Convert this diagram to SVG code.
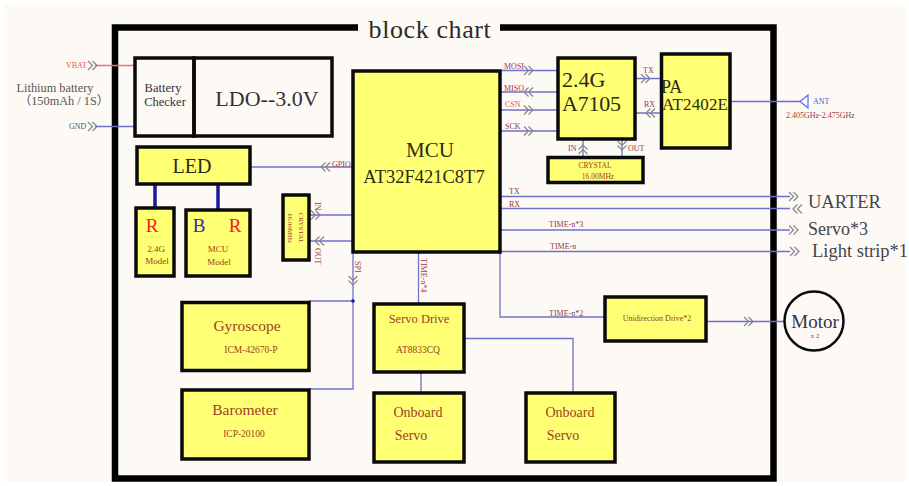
<svg xmlns="http://www.w3.org/2000/svg" width="909" height="486" viewBox="0 0 909 486">
<style>
text{font-family:"Liberation Serif","Noto Sans CJK SC",serif}
.box{fill:#ffff73;stroke:#0a0a0a;stroke-width:3.500}
.wbox{fill:none;stroke:#0a0a0a;stroke-width:3.500}
.w{fill:none;stroke:#7070cc;stroke-width:1.300}
.chev{fill:none;stroke:#85858e;stroke-width:1.200}
.lb{font-size:8px;fill:#983844}
.t{fill:#333038}
.y{fill:#2c2a10}
.br{fill:#9c3e26}
.m{fill:#94441a}
</style>
<defs>
<g id="ch" class="chev"><path d="M-5 -4.500 L-0.500 0 L-5 4.500 M-0.500 -4.500 L4 0 L-0.500 4.500"/></g>
</defs>
<rect x="0" y="0" width="909" height="486" fill="#ffffff"/>
<rect x="4" y="4" width="901" height="478" fill="#fdfaf6"/>
<g id="frame"><path d="M358 27.500 H115 V478.500 H773.500 V27.500 H500" fill="none" stroke="#000" stroke-width="6.500"/></g>
<text x="430" y="38" font-size="26" text-anchor="middle" fill="#2a2a2a" letter-spacing="0.600">block chart</text>

<g id="connectors">
<path d="M95 65.500 H134" fill="none" stroke="#f07070" stroke-width="1.300"/>
<path class="w" d="M95 126.500 H134"/>
<path class="w" d="M251 167 H352"/>
<path class="w" d="M501 70.500 H557 M501 92 H557 M501 110 H557 M501 131 H557"/>
<path class="w" d="M636 78.500 H661 M636 113 H661"/>
<path class="w" d="M731 101.500 H800"/>
<path class="w" d="M583 140 V157 M622 140 V157"/>
<path class="w" d="M310 215 H352 M310 241 H352"/>
<path class="w" d="M501 196.500 H790 M501 208.500 H790 M501 230 H790 M501 251.500 H790"/>
<path class="w" d="M500 252 V317 H604"/>
<path class="w" d="M707 321.500 H784"/>
<path class="w" d="M353 252 V389 H309 M309 301 H353"/>
<path class="w" d="M418.500 252 V303"/>
<path class="w" d="M421 373 V392"/>
<path class="w" d="M465 338.500 H573 V392"/>
<path d="M155 185 V207 M218 185 V209" fill="none" stroke="#1a1aa0" stroke-width="3.500"/>
<circle cx="353" cy="301" r="1.800" fill="#1a1aa0"/>
<path d="M800 101.500 L808 95 V108 Z" fill="none" stroke="#5a6af0" stroke-width="1.200"/>
<use href="#ch" x="93" y="65.500"/>
<use href="#ch" x="93" y="126.500"/>
<use href="#ch" transform="translate(325 167) rotate(180)"/>
<use href="#ch" x="529" y="70.500"/>
<use href="#ch" transform="translate(528 92) rotate(180)"/>
<use href="#ch" x="529" y="110"/>
<use href="#ch" x="529" y="131"/>
<use href="#ch" x="646" y="78.500"/>
<use href="#ch" transform="translate(650 113) rotate(180)"/>
<use href="#ch" transform="translate(583 149) rotate(-90)"/>
<use href="#ch" transform="translate(622 146) rotate(90)"/>
<use href="#ch" x="316" y="215"/>
<use href="#ch" transform="translate(319 241) rotate(180)"/>
<use href="#ch" transform="translate(353 281) rotate(90)"/>
<use href="#ch" x="794" y="196.500"/>
<use href="#ch" transform="translate(797 209) rotate(180)"/>
<use href="#ch" x="794" y="230"/>
<use href="#ch" x="795" y="251.500"/>
<use href="#ch" x="749" y="321.500"/>
</g>

<g id="battery-labels">
<text x="55" y="92" font-size="12.300" text-anchor="middle" fill="#55555c">Lithium battery</text>
<text x="64" y="105" font-size="12.300" text-anchor="middle" fill="#55555c">（150mAh / 1S）</text>
<text x="66" y="68" font-size="8" fill="#f05050">VBAT</text>
<text x="69" y="129" font-size="8" fill="#555560">GND</text>
</g>

<g id="battery-checker">
<rect class="wbox" x="135" y="58" width="59" height="78"/>
<text x="163" y="92" font-size="12.500" text-anchor="middle" class="t">Battery</text>
<text x="165" y="106" font-size="12.500" text-anchor="middle" class="t">Checker</text>
</g>
<g id="ldo">
<rect class="wbox" x="194" y="58" width="138" height="78"/>
<text x="267" y="106" font-size="22" text-anchor="middle" class="t">LDO--3.0V</text>
</g>
<g id="led">
<rect class="box" x="137" y="147" width="113" height="37"/>
<text x="192" y="173" font-size="20" text-anchor="middle" class="y">LED</text>
</g>
<g id="led-r">
<rect class="box" x="136" y="208" width="38" height="68"/>
<text x="152" y="232" font-size="19" text-anchor="middle" fill="#f02020">R</text>
<text x="156" y="252" font-size="9" text-anchor="middle" class="m">2.4G</text>
<text x="157" y="264" font-size="9" text-anchor="middle" class="m">Model</text>
</g>
<g id="led-br">
<rect class="box" x="186" y="210" width="64" height="66"/>
<text x="199" y="232" font-size="19" text-anchor="middle" fill="#3030b0">B</text>
<text x="235" y="232" font-size="19" text-anchor="middle" fill="#f02020">R</text>
<text x="218" y="252" font-size="9" text-anchor="middle" class="m">MCU</text>
<text x="219" y="265" font-size="9" text-anchor="middle" class="m">Model</text>
</g>
<g id="crystal-mcu">
<rect class="box" x="283" y="195" width="26" height="65"/>
<text transform="translate(299 228) rotate(90)" font-size="7" text-anchor="middle" class="br">CRYSTAL</text>
<text transform="translate(288 228) rotate(90)" font-size="7" text-anchor="middle" class="br">16.00MHz</text>
</g>
<g id="mcu">
<rect class="box" x="353" y="71" width="147" height="181"/>
<text x="430" y="157" font-size="21" text-anchor="middle" class="y">MCU</text>
<text x="424" y="183" font-size="18.500" text-anchor="middle" class="y">AT32F421C8T7</text>
</g>
<g id="a7105">
<rect class="box" x="558" y="58" width="77" height="81"/>
<text x="562" y="87" font-size="22" class="y">2.4G</text>
<text x="562" y="111" font-size="22" class="y" textLength="59">A7105</text>
</g>
<g id="pa">
<rect class="box" x="661.500" y="54" width="68.500" height="94"/>
<text x="661" y="93" font-size="18" class="y">PA</text>
<text x="662" y="110" font-size="17" class="y" textLength="66">AT2402E</text>
</g>
<g id="crystal-rf">
<rect class="box" x="548" y="157.500" width="95" height="25"/>
<text x="595" y="168" font-size="7.500" text-anchor="middle" class="br">CRYSTAL</text>
<text x="598" y="179" font-size="7.500" text-anchor="middle" class="br">16.00MHz</text>
</g>
<g id="gyroscope">
<rect class="box" x="182" y="302.500" width="127" height="68"/>
<text x="247" y="331" font-size="15.500" text-anchor="middle" class="br">Gyroscope</text>
<text x="251" y="353" font-size="9.500" text-anchor="middle" class="br">ICM-42670-P</text>
</g>
<g id="barometer">
<rect class="box" x="182" y="390" width="127" height="69"/>
<text x="245" y="415" font-size="15.500" text-anchor="middle" class="br">Barometer</text>
<text x="244" y="437" font-size="9.500" text-anchor="middle" class="br">ICP-20100</text>
</g>
<g id="servo-drive">
<rect class="box" x="374" y="304" width="90" height="68"/>
<text x="419" y="323" font-size="12.500" text-anchor="middle" class="br">Servo Drive</text>
<text x="418" y="353" font-size="9.500" text-anchor="middle" class="br">AT8833CQ</text>
</g>
<g id="onboard-servo-1">
<rect class="box" x="374" y="393" width="90" height="69"/>
<text x="418" y="417" font-size="14" text-anchor="middle" class="br">Onboard</text>
<text x="411" y="440" font-size="14" text-anchor="middle" class="br">Servo</text>
</g>
<g id="onboard-servo-2">
<rect class="box" x="526" y="393" width="89" height="69"/>
<text x="570" y="417" font-size="14" text-anchor="middle" class="br">Onboard</text>
<text x="563" y="440" font-size="14" text-anchor="middle" class="br">Servo</text>
</g>
<g id="unidirection-drive">
<rect class="box" x="605" y="297" width="101" height="44"/>
<text x="657" y="321" font-size="8" text-anchor="middle" class="m">Unidirection Drive*2</text>
</g>
<g id="motor">
<circle cx="814" cy="321" r="29.500" fill="none" stroke="#0a0a0a" stroke-width="2.500"/>
<text x="815" y="328" font-size="19" text-anchor="middle" fill="#333048">Motor</text>
<text x="815" y="338" font-size="7" text-anchor="middle" fill="#b03030">x 2</text>
</g>

<g id="labels">
<text class="lb" x="504" y="69">MOSI</text>
<text class="lb" x="504" y="91">MISO</text>
<text class="lb" x="505" y="107" style="fill:#f05050">CSN</text>
<text class="lb" x="505" y="129">SCK</text>
<text class="lb" x="643" y="73">TX</text>
<text class="lb" x="644" y="107">RX</text>
<text class="lb" x="568" y="151">IN</text>
<text class="lb" x="628" y="151">OUT</text>
<text x="813" y="104" font-size="8" fill="#4a5ac8">ANT</text>
<text x="786" y="118" font-size="8" fill="#983844">2.405GHz-2.475GHz</text>
<text class="lb" x="332" y="167">GPIO</text>
<text class="lb" transform="translate(315 202) rotate(90)">IN</text>
<text class="lb" transform="translate(315 248) rotate(90)">OUT</text>
<text class="lb" transform="translate(355 261) rotate(90)">SPI</text>
<text class="lb" transform="translate(421 258) rotate(90)">TIME-n*4</text>
<text class="lb" x="509" y="194">TX</text>
<text class="lb" x="509" y="207">RX</text>
<text class="lb" x="549" y="227">TIME-n*3</text>
<text class="lb" x="550" y="249">TIME-n</text>
<text class="lb" x="549" y="316">TIME-n*2</text>
<text x="808" y="208" font-size="18.500" fill="#44444c">UARTER</text>
<text x="808" y="235" font-size="18" fill="#44444c">Servo*3</text>
<text x="812" y="257" font-size="18.500" fill="#44444c">Light strip*1</text>
</g>
</svg>
